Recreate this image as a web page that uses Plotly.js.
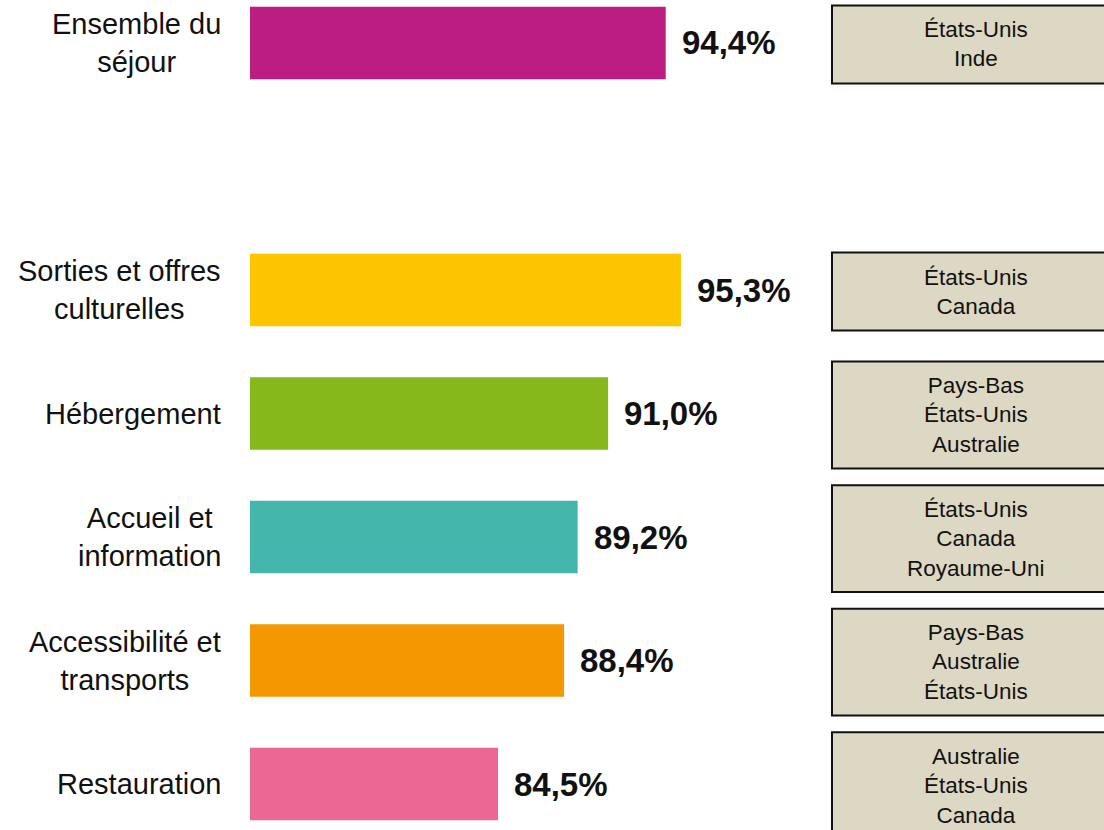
<!DOCTYPE html>
<html>
<head>
<meta charset="utf-8">
<script src="https://cdn.plot.ly/plotly-3.0.1.min.js"></script>
<style>html,body{margin:0;padding:0;background:#fff;}</style>
</head>
<body>
<div id="chart" style="width:1104px;height:830px;"></div>
<script>
// Data
const categories = ["Ensemble du séjour", "Sorties et offres culturelles", "Hébergement", "Accueil et information", "Accessibilité et transports", "Restauration"];
const categoryLabels = ["Ensemble du<br>séjour", "Sorties et offres<br>culturelles", "Hébergement", "Accueil et<br>information", "Accessibilité et<br>transports", "Restauration"];
const values = [94.4, 95.3, 91.0, 89.2, 88.4, 84.5];
const valueLabels = ["94,4%", "95,3%", "91,0%", "89,2%", "88,4%", "84,5%"];
const countries = [
  ["États-Unis", "Inde"],
  ["États-Unis", "Canada"],
  ["Pays-Bas", "États-Unis", "Australie"],
  ["États-Unis", "Canada", "Royaume-Uni"],
  ["Pays-Bas", "Australie", "États-Unis"],
  ["Australie", "États-Unis", "Canada"]
];
const colors = ["#bc1d82", "#fdc500", "#86b81b", "#45b6ab", "#f39800", "#ea6893"];

const spacer = " ";
const categoryOrder = [categories[0], spacer].concat(categories.slice(1));

const FONT = "Liberation Sans, Arial, sans-serif";

const trace = {
  type: "bar",
  orientation: "h",
  x: values,
  y: categories,
  width: 0.587,
  marker: {color: colors, line: {width: 0}},
  hoverinfo: "skip"
};

const annotations = [];
const shapes = [];
categories.forEach((c, i) => {
  annotations.push({
    xref: "paper", yref: "y", x: 0, y: c, xanchor: "right", yanchor: "middle",
    xshift: -27, align: "center", showarrow: false,
    text: categoryLabels[i], font: {family: FONT, size: 29, color: "#111"}
  });
  annotations.push({
    xref: "x", yref: "y", x: values[i], y: c, xanchor: "left", yanchor: "middle",
    xshift: 14, showarrow: false,
    text: valueLabels[i], font: {family: FONT, size: 33, color: "#111", weight: "bold"}
  });
  const n = countries[i].length;
  const h = n * 28.6 + 21;
  shapes.push({
    type: "rect", xref: "paper", yref: "y", ysizemode: "pixel", yanchor: c,
    x0: 0.6815, x1: 1.02, y0: -h / 2 - 1.5, y1: h / 2 - 1.5,
    fillcolor: "#ddd8c3", line: {color: "#111", width: 2}, layer: "above"
  });
  annotations.push({
    xref: "paper", yref: "y", x: 0.850, y: c, xanchor: "center", yanchor: "middle",
    yshift: -1.5, align: "center", showarrow: false,
    text: countries[i].join("<br>"), font: {family: FONT, size: 22.5, color: "#111"}
  });
});

const layout = {
  width: 1104, height: 830,
  margin: {l: 250, r: 0, t: 0, b: 0, pad: 0},
  paper_bgcolor: "#fff", plot_bgcolor: "#fff",
  showlegend: false,
  xaxis: {range: [69.86, 120.27], visible: false, fixedrange: true},
  yaxis: {type: "category", categoryorder: "array", categoryarray: categoryOrder,
          range: [6.372, -0.348], visible: false, fixedrange: true},
  shapes: shapes,
  annotations: annotations
};

Plotly.newPlot("chart", [trace], layout, {displayModeBar: false, staticPlot: true});
</script>
</body>
</html>
